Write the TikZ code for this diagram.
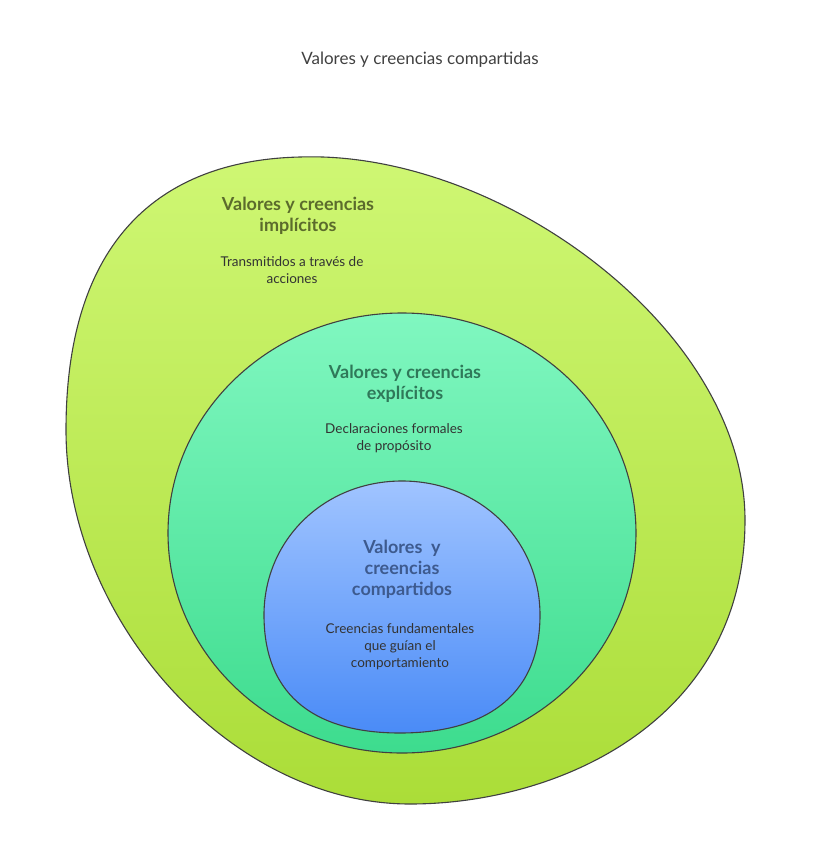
\documentclass[tikz,border=0pt]{standalone}
\usepackage{fontspec}
\setmainfont{Lato}
\definecolor{outertop}{HTML}{CFF774}
\definecolor{outerbot}{HTML}{ABDD38}
\definecolor{midtop}{HTML}{80F7C0}
\definecolor{midbot}{HTML}{3DDC8E}
\definecolor{innertop}{HTML}{A0C4FF}
\definecolor{innerbot}{HTML}{4A8BF7}
\definecolor{outertext}{HTML}{5B6B2C}
\definecolor{midtext}{HTML}{2F7859}
\definecolor{innertext}{HTML}{3D5A8E}
\definecolor{bodytext}{HTML}{333333}
\tikzset{
    layer/.style = {draw=black!75!white, line width=1.1pt},
    heading/.style = {font=\fontsize{18}{21}\selectfont\bfseries, align=center},
    body/.style = {font=\fontsize{13.5}{17}\selectfont, align=center, text=bodytext},
}
\begin{document}
\begin{tikzpicture}[x=1pt, y=-1pt]
    \useasboundingbox (0,0) rectangle (840,852);

    %% Title
    \node [font=\fontsize{17}{20}\selectfont, text=black!75!white] (title) at (420,60) {Valores y creencias compartidas};

    %% Three nested layers
    \shade [layer, top color=outertop, bottom color=outerbot]
      (300,157) .. controls (500,150) and (745,330) .. (745,520)
      .. controls (745,720) and (560,804) .. (410,804)
      .. controls (230,804) and (66,620) .. (66,430)
      .. controls (66,230) and (170,160) .. cycle;
    \shade [layer, top color=midtop, bottom color=midbot]
      (402,533) ellipse [x radius=234, y radius=220];
    \shade [layer, top color=innertop, bottom color=innerbot]
      (402,481) .. controls (480,481) and (540,540) .. (540,615)
      .. controls (540,700) and (480,733) .. (400,733)
      .. controls (320,733) and (264,700) .. (264,615)
      .. controls (264,540) and (324,481) .. cycle;

    %% Labels
    \node [heading, text=outertext] (implicit) at (298,216) {Valores y creencias\\implícitos};
    \node [body] (implicitdesc) at (292,270) {Transmitidos a través de\\acciones};
    \node [heading, text=midtext] (explicit) at (405,384) {Valores y creencias\\explícitos};
    \node [body] (explicitdesc) at (394,438) {Declaraciones formales\\de propósito};
    \node [heading, text=innertext] (shared) at (402,569) {Valores~ y\\creencias\\compartidos};
    \node [body] (shareddesc) at (400,647) {Creencias fundamentales\\que guían el\\comportamiento};
\end{tikzpicture}
\end{document}
